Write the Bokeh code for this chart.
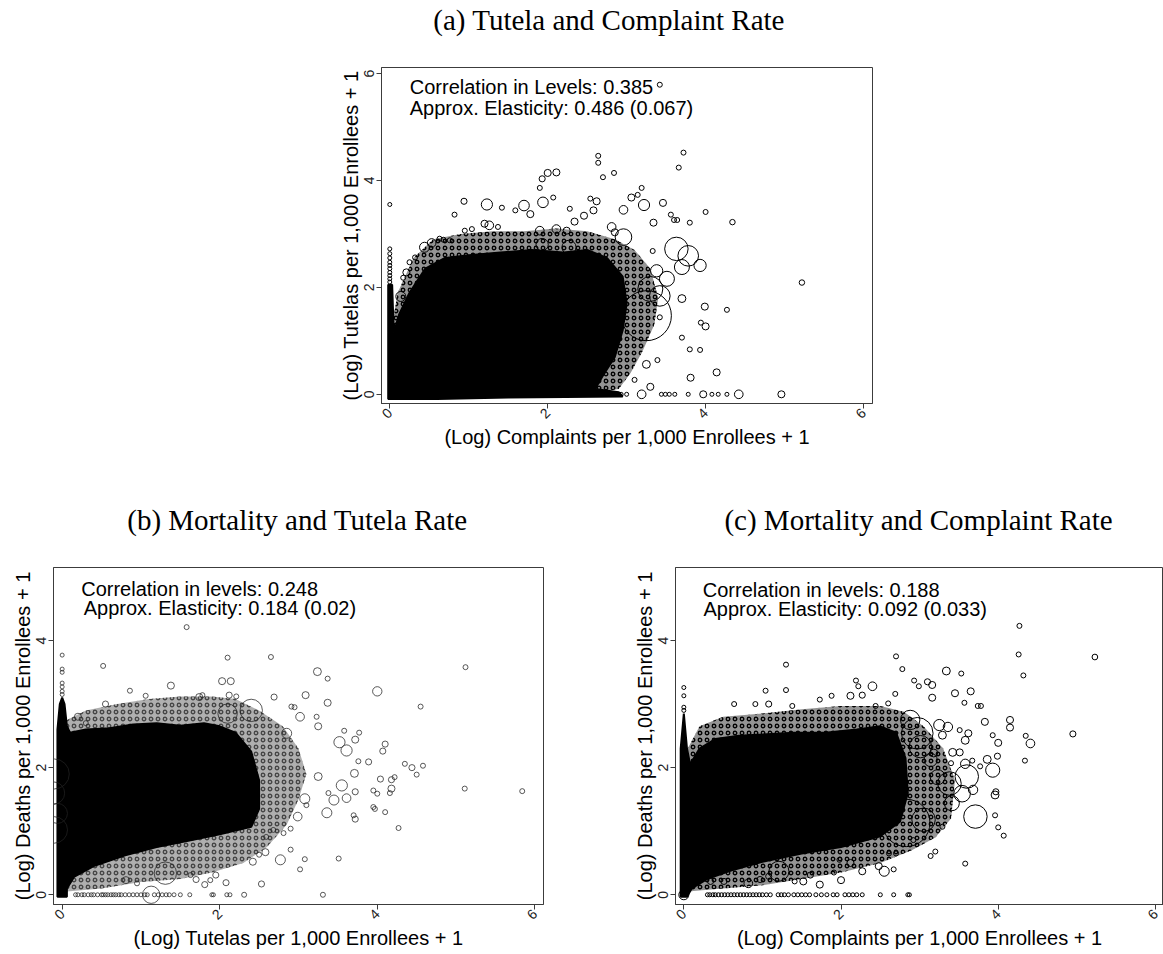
import math
from bokeh.plotting import figure
from bokeh.models import Range1d, FixedTicker, Label
from bokeh.layouts import column, row
from bokeh.core.properties import value
from bokeh.embed import file_html
from bokeh.resources import INLINE

# ---------------- panel (a): tutelas vs complaints ----------------
title_a = "(a) Tutela and Complaint Rate"
# solid core of the point cloud (outline)
core_a_x = [-0.02, -0.02, 0.03, 0.05, 0.12, 0.25, 0.45, 0.70, 1.00, 1.40, 1.80, 2.20, 2.50,
            2.75, 2.95, 3.00, 2.95, 2.85, 2.70, 2.60, 2.90, 2.95, 1.50, 0.60]
core_a_y = [-0.09, 2.05, 2.05, 1.15, 1.50, 1.90, 2.35, 2.55, 2.60, 2.65, 2.70, 2.65, 2.70,
            2.55, 2.20, 1.70, 1.20, 0.70, 0.35, 0.10, 0.04, -0.04, -0.06, -0.09]
# looser band of overlapping markers around the core
fringe_a_x = [0.02, 0.10, 0.30, 0.55, 0.90, 1.30, 1.70, 2.10, 2.50, 2.85, 3.10, 3.30, 3.40,
              3.35, 3.20, 3.05, 2.90, 2.50, 0.02]
fringe_a_y = [1.20, 1.90, 2.55, 2.90, 3.00, 3.05, 3.05, 3.10, 3.05, 2.90, 2.70, 2.35, 1.80,
              1.30, 0.80, 0.40, 0.10, 0.00, 0.00]
spike_a = [2.10, 2.16, 2.22, 2.28, 2.35, 2.41, 2.47, 2.55, 2.63, 2.72, 3.55]
zero_a = [2.30, 2.38, 2.45, 2.52, 2.60, 2.67, 2.74, 2.80, 2.87, 2.93, 3.00, 3.44, 3.49,
          3.54, 3.61, 3.78, 4.08, 4.16, 4.27]
a_x = [3.42, 2.64, 2.64, 3.72, 3.66, 2.70, 2.84, 2.00, 2.11, 1.93,
       1.90, 3.19, 3.14, 3.06, 3.22, 2.96, 3.46, 3.56, 3.60, 3.64,
       3.80, 4.00, 4.34, 5.22, 4.27, 3.99, 4.00, 3.94, 3.70, 3.70,
       3.80, 3.93, 4.14, 3.81, 3.25, 3.39, 3.30, 3.10, 3.42, 3.34,
       3.33, 3.63, 3.78, 3.93, 3.70, 3.51, 3.42, 3.25, 3.38, 0.44,
       0.53, 0.14, 0.94, 1.23, 1.42, 1.70, 1.78, 1.94, 2.07, 1.59,
       0.82, 0.95, 1.04, 1.20, 1.26, 1.37, 0.68, 0.76, 0.63, 0.32,
       0.25, 0.21, 0.17, 2.28, 2.46, 2.34, 2.58, 2.54, 2.62, 2.11,
       2.24, 1.90, 2.81, 2.96, 2.85, 1.93, 2.27, 3.19, 3.97, 4.42,
       4.96, 3.30]
a_y = [5.79, 4.46, 4.33, 4.52, 4.24, 4.06, 4.14, 4.14, 4.15, 4.03,
       3.86, 3.86, 3.73, 3.68, 3.54, 3.45, 3.58, 3.36, 3.26, 3.26,
       3.21, 3.41, 3.22, 2.09, 1.58, 1.64, 1.27, 1.34, 1.79, 1.06,
       0.84, 0.83, 0.41, 0.31, 0.56, 0.64, 0.14, 0.27, 1.44, 3.21,
       2.68, 2.72, 2.59, 2.41, 2.38, 2.16, 1.84, 1.47, 2.31, 2.75,
       2.83, 1.83, 3.61, 3.55, 3.49, 3.53, 3.37, 3.59, 3.68, 3.44,
       3.36, 3.06, 3.09, 3.19, 3.16, 3.13, 2.89, 2.88, 2.91, 2.56,
       2.47, 2.28, 2.18, 3.47, 3.34, 3.23, 3.44, 3.66, 3.61, 3.09,
       3.06, 3.06, 3.13, 2.94, 3.03, 2.80, 2.75, 0.00, 0.00, 0.00,
       0.00, 1.97]
a_w = [1, 1, 1, 1, 1, 1, 1, 2, 2, 1.5,
       1, 1, 1, 2, 5, 3, 2, 1, 1, 1,
       1, 1, 1.2, 1.2, 1, 2, 2, 1, 2.5, 1,
       1, 1, 2, 2, 2.5, 1, 2, 1, 1, 2,
       1, 22, 17, 6, 9, 9, 17, 100, 6, 4,
       3, 4, 1.5, 5, 1, 4.5, 2, 4.5, 1, 1,
       1, 1, 1, 2, 3, 1, 1, 1, 1, 1,
       1, 2, 1, 1, 2, 2, 2, 1, 2, 3,
       2, 3, 3, 11, 2, 6, 8, 3, 2, 3,
       2, 25]

# ---------------- panel (b): deaths vs tutelas ----------------
title_b = "(b) Mortality and Tutela Rate"
core_b_x = [-0.06, -0.06, -0.03, 0.00, 0.03, 0.06, 0.10, 0.30, 0.60, 0.90, 1.20, 1.50, 1.80,
            2.00, 2.20, 2.40, 2.50, 2.50, 2.40, 2.00, 1.60, 1.20, 0.80, 0.40, 0.15, 0.06, 0.06]
core_b_y = [-0.03, 2.60, 3.00, 3.10, 3.00, 2.65, 2.55, 2.60, 2.62, 2.68, 2.70, 2.66, 2.70,
            2.65, 2.55, 2.25, 1.80, 1.35, 1.07, 0.95, 0.85, 0.75, 0.62, 0.45, 0.28, 0.10, -0.03]
fringe_b_x = [0.06, 0.06, 0.30, 0.70, 1.10, 1.50, 1.90, 2.20, 2.50, 2.80, 3.00, 3.10, 3.00,
              2.85, 2.60, 2.30, 1.90, 1.50, 1.00, 0.50]
fringe_b_y = [0.05, 2.75, 2.90, 3.00, 3.08, 3.12, 3.12, 3.08, 2.90, 2.65, 2.30, 1.90, 1.50,
              1.10, 0.75, 0.50, 0.35, 0.25, 0.20, 0.10]
spike_b = [3.15, 3.20, 3.27, 3.33, 3.50, 3.55, 3.77]
zero_b = [0.17, 0.20, 0.25, 0.28, 0.33, 0.37, 0.40, 0.45, 0.50, 0.52, 0.55, 0.58, 0.62,
          0.65, 0.68, 0.72, 0.75, 0.80, 0.85, 0.90, 0.95, 1.00, 1.05, 1.08, 1.17, 1.22,
          1.27, 1.32, 1.36, 1.42, 1.50, 1.62, 1.90, 1.92, 2.09, 2.13]
b_x = [1.58, 5.12, 5.84, 5.11, 2.10, 2.65, 0.52, 3.24, 3.37, 1.38,
       2.03, 2.14, 0.86, 3.09, 4.00, 2.12, 2.21, 2.69, 3.37, 4.55,
       1.06, 1.74, 1.78, 2.95, 2.91, 3.02, 3.23, 3.25, 2.85, 3.58,
       3.77, 3.72, 3.52, 3.61, 4.10, 4.07, 3.89, 3.76, 4.35, 4.44,
       4.58, 4.50, 4.04, 4.18, 4.22, 4.18, 4.16, 3.95, 4.00, 3.71,
       3.72, 3.95, 3.97, 4.10, 3.70, 3.72, 4.27, 3.51, 3.31, 3.61,
       3.55, 3.45, 3.36, 3.38, 3.25, 3.08, 2.99, 3.10, 2.77, 2.90,
       3.08, 3.02, 2.53, 2.31, 2.08, 1.81, 1.95, 1.88, 1.70, 1.63,
       1.31, 1.13, 0.95, 0.81, 2.42, 2.58, 2.50, 2.59, 2.68, 2.81,
       2.90, -0.10, -0.11, -0.10, -0.06, 2.10, 2.40, 0.20, 0.55, 0.30]
b_y = [4.21, 3.58, 1.63, 1.67, 3.73, 3.74, 3.60, 3.51, 3.40, 3.29,
       3.36, 3.36, 3.21, 3.14, 3.20, 3.14, 3.12, 3.11, 3.02, 2.96,
       3.13, 3.11, 3.14, 2.95, 2.96, 2.80, 2.80, 2.65, 2.54, 2.58,
       2.55, 2.44, 2.40, 2.27, 2.37, 2.26, 2.09, 2.10, 2.06, 2.00,
       2.03, 1.89, 1.82, 1.81, 1.85, 1.67, 1.60, 1.64, 1.59, 1.91,
       1.62, 1.38, 1.35, 1.30, 1.25, 1.19, 1.05, 0.57, 0.00, 1.52,
       1.72, 1.49, 1.29, 1.60, 1.86, 1.51, 1.23, 1.41, 0.55, 0.71,
       0.56, 0.40, 0.17, 0.00, 0.19, 0.16, 0.31, 0.23, 0.24, 0.31,
       0.34, 0.00, 0.18, 0.23, 0.52, 0.67, 0.63, 0.91, 1.02, 0.97,
       1.04, 1.90, 1.60, 1.02, 1.28, 2.85, 2.90, 2.80, 3.00, 2.70]
b_w = [1, 1, 1, 1, 1, 1, 1, 2.5, 1, 2,
       2, 2, 1, 2, 3.5, 1.5, 1, 1.5, 2, 1,
       1, 2, 1, 1, 1, 3, 1, 2, 4, 1,
       1, 2, 5, 5, 1.5, 1.5, 1.5, 1, 1, 1.5,
       1, 1, 1.5, 1.5, 1, 2, 1, 1, 1, 2.5,
       1.5, 1, 1, 1, 1, 1.5, 1, 1, 1, 3,
       5, 4, 4, 1, 2.5, 4, 3, 1, 4, 1,
       1, 1, 1.5, 1, 1.5, 1.5, 1.5, 1, 1.5, 1,
       20, 12, 1, 2, 2, 2, 1, 1, 1, 1,
       1, 36, 20, 28, 16, 15, 20, 2, 1.5, 1]

# ---------------- panel (c): deaths vs complaints ----------------
title_c = "(c) Mortality and Complaint Rate"
core_c_x = [-0.04, -0.04, 0.00, 0.04, 0.08, 0.20, 0.40, 0.70, 1.00, 1.40, 1.80, 2.20, 2.50,
            2.70, 2.82, 2.85, 2.75, 2.50, 2.00, 1.50, 1.00, 0.60, 0.30, 0.10, 0.04]
core_c_y = [-0.03, 2.30, 2.85, 2.30, 2.05, 2.30, 2.45, 2.50, 2.52, 2.55, 2.55, 2.60, 2.65,
            2.55, 2.15, 1.60, 1.15, 0.92, 0.75, 0.65, 0.52, 0.38, 0.25, 0.10, -0.03]
fringe_c_x = [0.05, 0.05, 0.20, 0.50, 1.00, 1.50, 2.00, 2.50, 2.80, 3.05, 3.30, 3.45, 3.40,
              3.20, 2.90, 2.50, 2.00, 1.50, 1.00, 0.50]
fringe_c_y = [0.05, 2.30, 2.65, 2.80, 2.85, 2.92, 2.97, 2.97, 2.88, 2.65, 2.30, 1.80, 1.20,
              0.90, 0.70, 0.50, 0.35, 0.25, 0.15, 0.10]
spike_c = [2.90, 2.95, 3.13, 3.26]
zero_c = [0.30, 0.33, 0.37, 0.40, 0.44, 0.48, 0.52, 0.56, 0.60, 0.64, 0.68, 0.72, 0.76,
          0.80, 0.84, 0.88, 0.92, 0.96, 1.00, 1.05, 1.10, 1.20, 1.24, 1.28, 1.33, 1.40,
          1.45, 1.50, 1.55, 1.60, 1.68, 1.75, 1.82, 1.90, 1.95, 2.05, 2.10, 2.15, 2.20,
          2.27, 2.50, 2.67, 2.85, 2.87]
c_x = [4.27, 4.26, 5.23, 4.32, 2.70, 1.30, 2.78, 3.34, 3.53, 2.40,
       2.19, 2.22, 2.93, 2.99, 3.10, 3.16, 1.30, 1.04, 3.45, 3.65,
       3.16, 2.69, 2.27, 2.12, 1.88, 1.73, 0.64, 0.91, 1.08, 1.38,
       3.57, 3.74, 3.78, 2.44, 2.60, 3.83, 4.15, 4.15, 3.93, 4.35,
       4.41, 4.95, 4.34, 4.00, 3.99, 3.86, 3.77, 3.93, 3.96, 3.97,
       3.96, 4.00, 4.07, 3.71, 3.68, 3.60, 3.58, 3.67, 3.36, 3.25,
       3.29, 3.58, 3.62, 3.51, 3.42, 3.40, 3.51, 3.14, 3.18, 3.29,
       3.58, 3.14, 3.20, 2.92, 2.70, 2.61, 2.55, 2.48, 2.67, 2.27,
       2.12, 2.00, 1.91, 1.98, 1.73, 1.61, 1.52, 1.41, 1.21, 1.08,
       0.97, 0.82, 0.51, 0.34, 2.83, 3.05, 2.97, 2.88, 3.01, 3.23,
       3.38, 3.54, 3.41, 0.00]
c_y = [4.23, 3.78, 3.74, 3.45, 3.75, 3.62, 3.55, 3.52, 3.48, 3.28,
       3.37, 3.28, 3.37, 3.28, 3.35, 3.30, 3.22, 3.21, 3.17, 3.20,
       3.10, 3.16, 3.14, 3.13, 3.13, 3.07, 3.00, 3.00, 3.00, 2.97,
       3.02, 2.97, 2.97, 2.97, 3.01, 2.72, 2.75, 2.63, 2.51, 2.50,
       2.38, 2.53, 2.11, 2.39, 2.18, 2.13, 2.02, 1.96, 1.57, 1.62,
       1.25, 1.06, 0.93, 1.23, 1.65, 1.86, 2.06, 2.11, 2.64, 2.67,
       2.51, 2.43, 2.54, 2.59, 2.24, 2.07, 2.24, 2.12, 2.23, 1.07,
       0.49, 0.61, 0.68, 0.86, 0.65, 0.65, 0.37, 0.45, 0.40, 0.37,
       0.50, 0.23, 0.35, 0.55, 0.16, 0.31, 0.21, 0.21, 0.37, 0.29,
       0.24, 0.18, 0.21, 0.21, 1.13, 1.18, 2.54, 2.75, 2.33, 1.85,
       1.75, 1.59, 1.44, 0.00]
c_w = [1, 1, 1.3, 1, 1, 1, 1, 2.5, 1, 3,
       1, 1, 1, 1, 1.5, 2, 1, 1, 2, 2,
       2, 1, 1.5, 2, 1, 1, 1, 1, 1.5, 1,
       1, 1, 1, 1, 1, 2, 2, 2, 1, 1,
       3, 1.5, 1, 2, 1.5, 2.5, 1, 8, 2.5, 1.5,
       1, 1, 1, 22, 3.5, 22, 3.5, 1, 3.5, 5,
       2.5, 2.5, 2, 1, 2.5, 1, 2, 7, 2.5, 1,
       1, 1, 1, 1, 1, 1, 4, 2, 1, 2,
       2, 2, 1, 1, 2, 1.5, 2, 1, 16, 1.5,
       1.5, 3, 1.5, 1.5, 90, 22, 40, 15, 20, 9,
       22, 11, 9, 4]

INK = "#3c3c3c"


def make_panel(width, height, borders, xr, yr, yticks, xlab, ylab):
    left, right, top, bottom = borders
    p = figure(width=width, height=height, x_range=Range1d(*xr), y_range=Range1d(*yr),
               output_backend="svg", toolbar_location=None,
               min_border_left=left, min_border_right=right,
               min_border_top=top, min_border_bottom=bottom)
    p.grid.visible = False
    p.outline_line_color = INK
    p.outline_line_width = 1
    p.background_fill_color = "white"
    p.border_fill_color = "white"
    p.xaxis.ticker = FixedTicker(ticks=[0, 2, 4, 6])
    p.yaxis.ticker = FixedTicker(ticks=yticks)
    p.xaxis.major_label_orientation = math.pi / 4
    p.yaxis.major_label_orientation = "parallel"
    p.xaxis.axis_label = xlab
    p.yaxis.axis_label = ylab
    for ax in p.axis:
        ax.axis_line_color = INK
        ax.major_tick_line_color = INK
        ax.major_tick_out = 5
        ax.major_tick_in = 0
        ax.minor_tick_line_color = None
        ax.major_label_text_font = "Liberation Sans"
        ax.major_label_text_font_size = "14px"
        ax.major_label_text_color = "#222222"
        ax.major_label_standoff = 2
        ax.axis_label_text_font = "Liberation Sans"
        ax.axis_label_text_font_size = "20px"
        ax.axis_label_text_font_style = "normal"
        ax.axis_label_text_color = "black"
        ax.axis_label_standoff = 0
    return p


def make_title_strip(width, height, borders, xr, xpos, ypos, text):
    # a bare strip above a panel that shares its horizontal scale, holding the caption
    left, right = borders
    s = figure(width=width, height=height, x_range=Range1d(*xr), y_range=Range1d(0, 1),
               output_backend="svg", toolbar_location=None,
               x_axis_type=None, y_axis_type=None,
               min_border_left=left, min_border_right=right,
               min_border_top=0, min_border_bottom=0)
    s.grid.visible = False
    s.outline_line_color = None
    s.text(x=[xpos], y=[ypos], text=[text], text_font=value("Liberation Serif"),
           text_font_size=value("29px"), text_align="center", text_baseline="middle",
           text_color="black")
    return s


def draw_cloud(p, fr_x, fr_y, core_x, core_y, spike, zero, px, py, pw, color, alpha):
    # looser band: grey wash with a ring hatch standing in for overlapping markers
    p.patch(fr_x, fr_y, fill_color="black", fill_alpha=0.42 * alpha, line_color=None,
            hatch_pattern="ring", hatch_color=color, hatch_alpha=alpha,
            hatch_scale=7, hatch_weight=1.3)
    p.patch(core_x, core_y, fill_color="black", line_color="black", line_width=2)
    p.scatter([0] * len(spike), spike, size=4, marker="circle", fill_color=None,
              line_color=color, line_alpha=alpha, line_width=1)
    p.scatter(zero, [0] * len(zero), size=4, marker="circle", fill_color=None,
              line_color=color, line_alpha=alpha, line_width=1)
    sizes = [5 * math.sqrt(w) for w in pw]
    p.scatter(px, py, size=sizes, marker="circle", fill_color=None,
              line_color=color, line_alpha=alpha, line_width=1)


def add_text(p, x, y, text):
    p.add_layout(Label(x=x, y=y, text=text, text_font="Liberation Sans", text_font_size="20px",
                       text_align="left", text_baseline="middle", text_color="black"))


xr_a = (-0.105, 6.114)
xr_b = (-0.110, 6.110)
xr_c = (-0.106, 6.103)
yr_bc = (-0.153, 5.148)

# panel (a)
sa = make_title_strip(1163, 48, (381, 291), xr_a, 2.778, 0.604, title_a)
pa = make_panel(1163, 442, (381, 291, 19, 87), xr_a, (-0.172, 6.112), [0, 2, 4, 6],
                "(Log) Complaints per 1,000 Enrollees + 1", "(Log) Tutelas per 1,000 Enrollees + 1")
draw_cloud(pa, fringe_a_x, fringe_a_y, core_a_x, core_a_y, spike_a, zero_a, a_x, a_y, a_w, "black", 1.0)
add_text(pa, 0.253, 5.75, "Correlation in Levels: 0.385")
add_text(pa, 0.253, 5.357, "Approx. Elasticity: 0.486 (0.067)")

# panel (b)
sb = make_title_strip(612, 57, (53, 69), xr_b, 2.987, 0.474, title_b)
pb = make_panel(612, 407, (53, 69, 20, 50), xr_b, yr_bc, [0, 2, 4],
                "(Log) Tutelas per 1,000 Enrollees + 1", "(Log) Deaths per 1,000 Enrollees + 1")
draw_cloud(pb, fringe_b_x, fringe_b_y, core_b_x, core_b_y, spike_b, zero_b, b_x, b_y, b_w, "#222222", 0.75)
add_text(pb, 0.242, 4.81, "Correlation in levels: 0.248")
add_text(pb, 0.274, 4.51, "Approx. Elasticity: 0.184 (0.02)")

# panel (c)
sc = make_title_strip(551, 57, (63, 0), xr_c, 2.986, 0.474, title_c)
pc = make_panel(551, 407, (63, 0, 20, 50), xr_c, yr_bc, [0, 2, 4],
                "(Log) Complaints per 1,000 Enrollees + 1", "(Log) Deaths per 1,000 Enrollees + 1")
draw_cloud(pc, fringe_c_x, fringe_c_y, core_c_x, core_c_y, spike_c, zero_c, c_x, c_y, c_w, "black", 1.0)
add_text(pc, 0.241, 4.80, "Correlation in levels: 0.188")
add_text(pc, 0.250, 4.50, "Approx. Elasticity: 0.092 (0.033)")

layout = column(sa, pa, row(sb, sc), row(pb, pc))
open("out.html", "w").write(file_html(layout, INLINE))
